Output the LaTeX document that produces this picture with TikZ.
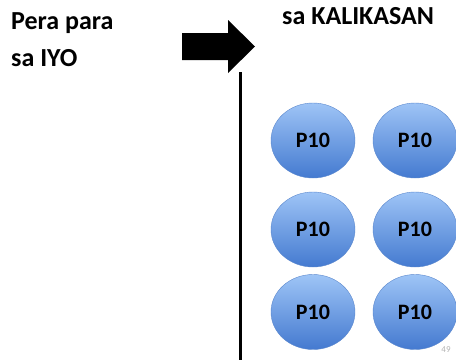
\documentclass[tikz,border=0pt]{standalone}
\usepackage{fontspec}
\setmainfont{Carlito}
\usepackage{tikz}
\usetikzlibrary{shapes.geometric,positioning}

\definecolor{coinTop}{RGB}{158,196,246}
\definecolor{coinBot}{RGB}{68,122,208}
\definecolor{coinEdge}{RGB}{90,135,205}

\begin{document}
\begin{tikzpicture}[x=1pt,y=-1pt,
    coin/.style={ellipse, minimum width=84pt, minimum height=75pt, inner sep=0pt,
        top color=coinTop, bottom color=coinBot, draw=coinEdge, line width=0.4pt,
        font=\bfseries\fontsize{22}{26}\selectfont},
    label text/.style={font=\bfseries\fontsize{26}{30}\selectfont, inner sep=0pt}]
        \useasboundingbox (0,0) rectangle (456,360);
        % left heading
        \node[label text, anchor=base west] (pera) at (11,29.3) {Pera para};
        \node[label text, anchor=base west] (iyo) at (11,66.7) {sa IYO};
        % right heading
        \node[label text, anchor=base west] (kalikasan) at (282,24) {sa KALIKASAN};
        % big arrow
        \fill (182,33) -- (228,33) -- (228,20) -- (255,46.5) -- (228,73) -- (228,60) -- (182,60) -- cycle;
        % divider
        \coordinate (top) at (240.5,72);
        \coordinate (bot) at (240.5,360);
        \draw[line width=3pt] (top) -- (bot);
        % coins
        \foreach[count=\i] \ry in {140.5,229.5,312} {
            \foreach[count=\j] \cx in {313,415} {
                \node[coin] (p-\i-\j) at (\cx,\ry) {P10};
            }
        }
        \node[font=\fontsize{9}{10}\selectfont, text=gray!60, inner sep=0pt] (page) at (446,350) {49};
    \end{tikzpicture}
\end{document}
